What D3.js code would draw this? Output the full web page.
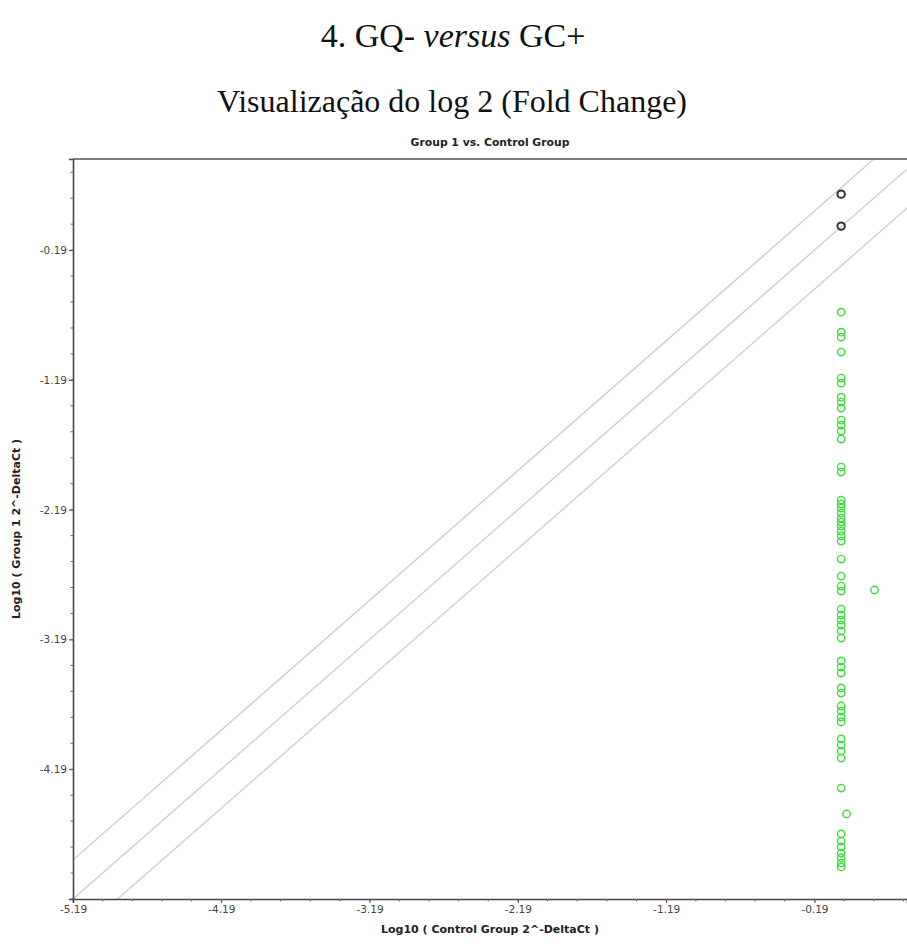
<!DOCTYPE html>
<html>
<head>
<meta charset="utf-8">
<script src="https://cdn.jsdelivr.net/npm/d3@7"></script>
<style>
  html, body { margin: 0; padding: 0; background: #fff; }
  svg { display: block; }
</style>
</head>
<body>
<svg id="chart" width="907" height="946"></svg>
<script>
// Scatter of log10(2^-DeltaCt): Group 1 (y) against Control Group (x)
const mainTitle = ["4. GQ- ", "versus", " GC+"];
const subTitle = "Visualização do log 2 (Fold Change)";
const chartTitle = "Group 1 vs. Control Group";
const xTitle = "Log10 ( Control Group 2^-DeltaCt )";
const yTitle = "Log10 ( Group 1 2^-DeltaCt )";

const xTickValues = [-5.19, -4.19, -3.19, -2.19, -1.19, -0.19];
const xTickLabels = ["-5.19", "-4.19", "-3.19", "-2.19", "-1.19", "-0.19"];
const yTickValues = [-4.19, -3.19, -2.19, -1.19, -0.19];
const yTickLabels = ["-4.19", "-3.19", "-2.19", "-1.19", "-0.19"];

// Fold-change boundary lines: y = x + offset (log10 of 2, 1 and 1/2)
const boundaryOffsets = [0.301, 0, -0.301];

// Genes within the fold-change boundary
const unchangedX = [-0.01, -0.01];
const unchangedY = [0.241, -0.005];

// Down-regulated genes
const downX = [
  -0.01, -0.01, -0.01, -0.01, -0.01, -0.01, -0.01, -0.01, -0.01, -0.01,
  -0.01, -0.01, -0.01, -0.01, -0.01, -0.01, -0.01, -0.01, -0.01, -0.01,
  -0.01, -0.01, -0.01, -0.01, -0.01, -0.01, -0.01, -0.01, -0.01, -0.01,
  -0.01, -0.01, -0.01, -0.01, -0.01, -0.01, -0.01, -0.01, -0.01, -0.01,
  -0.01, -0.01, -0.01, -0.01, -0.01, -0.01, -0.01, -0.01, -0.01, 0.026,
  -0.01, -0.01, -0.01, -0.01, -0.01, -0.01, -0.01, 0.215
];
const downY = [
  -0.668, -0.822, -0.860, -0.976, -1.176, -1.215, -1.323, -1.361, -1.407, -1.500,
  -1.538, -1.584, -1.646, -1.862, -1.900, -2.116, -2.147, -2.178, -2.216, -2.255,
  -2.286, -2.316, -2.355, -2.393, -2.432, -2.571, -2.702, -2.779, -2.817, -2.956,
  -3.002, -3.041, -3.079, -3.125, -3.179, -3.356, -3.403, -3.449, -3.564, -3.603,
  -3.703, -3.742, -3.788, -3.826, -3.957, -4.004, -4.050, -4.104, -4.335, -4.535,
  -4.689, -4.743, -4.789, -4.836, -4.874, -4.913, -4.943, -2.809
];

const svg = d3.select("#chart");
const plot = { left: 73, right: 907, top: 159, bottom: 899 };

const x = d3.scaleLinear().domain([-5.19, 0.434]).range([plot.left, plot.right]);
const y = d3.scaleLinear().domain([-5.19, 0.512]).range([plot.bottom, plot.top]);

// Headings
const serif = "'Liberation Serif', 'Times New Roman', serif";
const h1 = svg.append("text")
  .attr("x", 453).attr("y", 47)
  .attr("text-anchor", "middle")
  .style("font-family", serif).style("font-size", "34px").attr("fill", "#111");
h1.append("tspan").text(mainTitle[0]);
h1.append("tspan").style("font-style", "italic").text(mainTitle[1]);
h1.append("tspan").text(mainTitle[2]);

svg.append("text")
  .attr("x", 452).attr("y", 112)
  .attr("text-anchor", "middle")
  .style("font-family", serif).style("font-size", "32px").attr("fill", "#111")
  .text(subTitle);

const sans = "'DejaVu Sans', Verdana, sans-serif";
svg.append("text")
  .attr("x", (plot.left + plot.right) / 2).attr("y", 146)
  .attr("text-anchor", "middle")
  .style("font-family", sans).style("font-size", "10.8px").style("font-weight", "bold")
  .attr("fill", "#222")
  .text(chartTitle);

// Clip the diagonal lines to the plotting area
svg.append("clipPath").attr("id", "plot-clip")
  .append("rect")
  .attr("x", plot.left).attr("y", plot.top)
  .attr("width", plot.right - plot.left).attr("height", plot.bottom - plot.top);

const lineGen = d3.line().x(d => x(d[0])).y(d => y(d[1]));
const [x0, x1] = x.domain();
svg.append("g").attr("clip-path", "url(#plot-clip)")
  .selectAll("path")
  .data(boundaryOffsets)
  .join("path")
  .attr("d", o => lineGen([[x0 - 1, x0 - 1 + o], [x1 + 1, x1 + 1 + o]]))
  .attr("fill", "none")
  .attr("stroke", "#cfcfcf")
  .attr("stroke-width", 1.4);

// Axes
const tickFont = g => g.selectAll("text")
  .style("font-family", sans).style("font-size", "10.5px").attr("fill", "#444");

const xAxis = d3.axisBottom(x)
  .tickValues(xTickValues)
  .tickFormat((d, i) => xTickLabels[i])
  .tickSize(4).tickPadding(3);
svg.append("g")
  .attr("transform", `translate(0,${plot.bottom})`)
  .call(xAxis)
  .call(g => g.select(".domain").attr("stroke", "#444").attr("stroke-width", 1.6))
  .call(g => g.selectAll(".tick line").attr("stroke", "#444"))
  .call(tickFont);

const yAxis = d3.axisLeft(y)
  .tickValues(yTickValues)
  .tickFormat((d, i) => yTickLabels[i])
  .tickSize(4).tickPadding(2);
svg.append("g")
  .attr("transform", `translate(${plot.left},0)`)
  .call(yAxis)
  .call(g => g.select(".domain").attr("stroke", "#444").attr("stroke-width", 1.6))
  .call(g => g.selectAll(".tick line").attr("stroke", "#444"))
  .call(tickFont);

// Minor ticks every 0.2 units
const minorX = d3.range(0, 29).map(i => -5.19 + i * 0.2).filter(v => v <= x1);
const minorY = d3.range(0, 29).map(i => -5.19 + i * 0.2).filter(v => v <= y.domain()[1]);
svg.append("g").selectAll("line")
  .data(minorX)
  .join("line")
  .attr("x1", d => x(d)).attr("x2", d => x(d))
  .attr("y1", plot.bottom).attr("y2", plot.bottom + 2.5)
  .attr("stroke", "#666");
svg.append("g").selectAll("line")
  .data(minorY)
  .join("line")
  .attr("x1", plot.left - 2.5).attr("x2", plot.left)
  .attr("y1", d => y(d)).attr("y2", d => y(d))
  .attr("stroke", "#666");

// Top border
svg.append("line")
  .attr("x1", plot.left).attr("x2", plot.right)
  .attr("y1", plot.top).attr("y2", plot.top)
  .attr("stroke", "#555").attr("stroke-width", 1.6);

// Axis titles
svg.append("text")
  .attr("x", (plot.left + plot.right) / 2).attr("y", 933)
  .attr("text-anchor", "middle")
  .style("font-family", sans).style("font-size", "11px").style("font-weight", "bold")
  .attr("fill", "#222")
  .text(xTitle);

svg.append("text")
  .attr("transform", `translate(20,${(plot.top + plot.bottom) / 2}) rotate(-90)`)
  .attr("text-anchor", "middle")
  .style("font-family", sans).style("font-size", "11px").style("font-weight", "bold")
  .attr("fill", "#222")
  .text(yTitle);

// Points
const downPts = downX.map((v, i) => [v, downY[i]]);
const flatPts = unchangedX.map((v, i) => [v, unchangedY[i]]);

svg.append("g").selectAll("circle")
  .data(downPts)
  .join("circle")
  .attr("cx", d => x(d[0])).attr("cy", d => y(d[1]))
  .attr("r", 3.7)
  .attr("fill", "none")
  .attr("stroke", "#3ddc3d")
  .attr("stroke-width", 1.4);

svg.append("g").selectAll("circle")
  .data(flatPts)
  .join("circle")
  .attr("cx", d => x(d[0])).attr("cy", d => y(d[1]))
  .attr("r", 3.7)
  .attr("fill", "none")
  .attr("stroke", "#333")
  .attr("stroke-width", 2);
</script>
</body>
</html>
